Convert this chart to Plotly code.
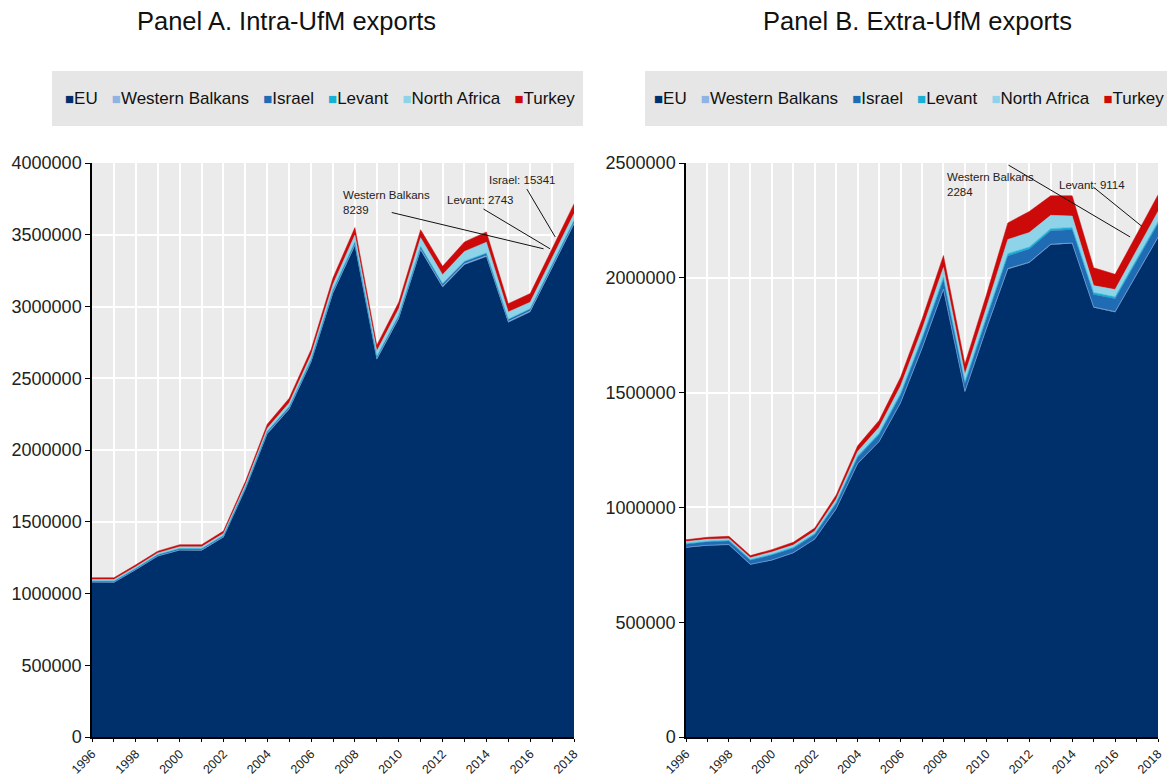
import plotly.graph_objects as go
from plotly.subplots import make_subplots

years = list(range(1996, 2019))
series_names = ['EU', 'Western Balkans', 'Israel', 'Levant', 'North Africa', 'Turkey']
colours = ['#00306b', '#8fb3e2', '#1f6cb4', '#19b0d6', '#8fd3e8', '#cc0a0a']

# Panel A: intra-UfM exports (USD million)
eu_a = [1077700, 1076000, 1164700, 1259400, 1300800, 1300000, 1391700, 1725800, 2112100, 2283500,
        2611900, 3092800, 3423100, 2630100, 2915000, 3391600, 3134500, 3290100, 3346600, 2888700,
        2961000, 3267800, 3572700]
wb_a = [2000, 2100, 2200, 2000, 2300, 2500, 2800, 3300, 4000, 4500, 5200, 6500, 7500, 6200, 6500,
        7800, 7200, 7600, 7900, 6900, 7300, 7900, 8239]
israel_a = [6500, 7000, 7200, 7800, 9000, 8500, 8400, 9500, 11000, 11800, 12400, 13600, 14800, 11900,
            13200, 15000, 14400, 14600, 14900, 13500, 13900, 14600, 15341]
levant_a = [1800, 1900, 1900, 1800, 1900, 2000, 2100, 2400, 2900, 3200, 3500, 4100, 4600, 3800, 4300,
            4600, 3900, 3700, 3600, 2900, 2800, 2700, 2743]
nafrica_a = [10000, 10000, 10000, 11000, 12000, 12000, 13000, 17000, 22000, 25000, 30000, 38000, 48000,
             38000, 45000, 60000, 62000, 68000, 75000, 50000, 45000, 45000, 48000]
turkey_a = [12000, 13000, 14000, 13000, 14000, 15000, 17000, 22000, 28000, 32000, 37000, 45000, 52000,
            40000, 46000, 56000, 58000, 66000, 72000, 58000, 60000, 62000, 68000]

# Panel B: extra-UfM exports (USD million)
eu_b = [825200, 834200, 837100, 751200, 769600, 801500, 861000, 993300, 1190100, 1285500, 1454300,
        1691000, 1948200, 1503200, 1777000, 2037700, 2065900, 2144300, 2149200, 1870500, 1850500,
        2015800, 2174600]
wb_b = [800, 800, 900, 800, 900, 1000, 1000, 1200, 1400, 1500, 1700, 2000, 2300, 1800, 2000, 2300,
        2100, 2200, 2300, 2000, 2000, 2200, 2284]
israel_b = [14000, 15000, 16000, 18000, 22000, 20000, 20000, 23000, 27000, 30000, 34000, 38000, 42000,
            35000, 42000, 55000, 57000, 58000, 58000, 55000, 56000, 55000, 58000]
levant_b = [3000, 3000, 3000, 3000, 3500, 3500, 4000, 4500, 5500, 6000, 7000, 8000, 9500, 8000, 9000,
            10000, 9000, 9500, 9500, 8500, 8500, 9000, 9114]
nafrica_b = [8000, 8000, 7000, 8000, 10000, 10000, 11000, 14000, 20000, 26000, 32000, 36000, 43000,
             32000, 40000, 62000, 63000, 58000, 50000, 30000, 32000, 38000, 45000]
turkey_b = [8000, 9000, 10000, 9000, 10000, 12000, 13000, 18000, 24000, 30000, 38000, 45000, 52000,
            45000, 55000, 72000, 92000, 85000, 88000, 78000, 66000, 70000, 72000]

panel_a = [eu_a, wb_a, israel_a, levant_a, nafrica_a, turkey_a]
panel_b = [eu_b, wb_b, israel_b, levant_b, nafrica_b, turkey_b]

FONT = 'Liberation Sans, Arial, sans-serif'
W, H = 1167, 778


def px(x):
    return x / W


def py(y):
    return 1 - y / H


fig = make_subplots(rows=1, cols=2)

for col, panel in ((1, panel_a), (2, panel_b)):
    for name, vals, c in zip(series_names, panel, colours):
        fig.add_trace(
            go.Scatter(x=years, y=vals, name=name, mode='lines', stackgroup=f'g{col}',
                       line=dict(color=c, width=0.5), fillcolor=c, showlegend=False),
            row=1, col=col
        )

fig.update_xaxes(
    range=[1996, 2018], tick0=1996, dtick=2, tickangle=-45,
    ticks='outside', ticklen=3, tickcolor='black',
    showline=True, linecolor='black', linewidth=1.5,
    showgrid=True, gridcolor='white', gridwidth=1.5,
    minor=dict(tick0=1996, dtick=1, ticks='outside', ticklen=3, tickcolor='black',
               showgrid=True, gridcolor='white', gridwidth=1.5),
    tickfont=dict(size=12.5, color='#222', family=FONT),
    automargin=False, zeroline=False
)
fig.update_yaxes(
    dtick=500000, tickformat='d', ticks='outside', ticklen=5, tickcolor='black',
    showline=True, linecolor='black', linewidth=1.5,
    showgrid=True, gridcolor='white', gridwidth=1.5,
    tickfont=dict(size=18, color='#222', family=FONT),
    automargin=False, zeroline=False
)
fig.update_layout(
    xaxis=dict(domain=[px(92), px(574)]),
    xaxis2=dict(domain=[px(686), px(1158)]),
    yaxis=dict(domain=[py(737), py(163)], range=[0, 4000000]),
    yaxis2=dict(domain=[py(737), py(163)], range=[0, 2500000]),
)

# legend boxes and titles
shapes = []
annotations = []
legend_html = '\u00a0\u00a0\u00a0'.join(
    f"<span style='color:{c};font-size:15px'>\u25a0</span>{n}" for n, c in zip(series_names, colours)
)
for x0, x1, title, tx in ((52, 583, 'Panel A. Intra-UfM exports', 286),
                          (645, 1167, 'Panel B. Extra-UfM exports', 917)):
    shapes.append(dict(type='rect', xref='paper', yref='paper', x0=px(x0), x1=px(x1),
                       y0=py(126), y1=py(71), fillcolor='#e6e6e6', line=dict(width=0), layer='below'))
    annotations.append(dict(xref='paper', yref='paper', x=px(tx), y=py(21), text=title,
                            showarrow=False, xanchor='center', yanchor='middle',
                            font=dict(size=25.5, color='#111', family=FONT)))
    annotations.append(dict(xref='paper', yref='paper', x=px((x0 + x1) / 2 + 3), y=py(98), text=legend_html,
                            showarrow=False, xanchor='center', yanchor='middle',
                            font=dict(size=17, color='#111', family=FONT)))

# callouts for the thin series
callouts = [
    ('x', 'y', 'Western Balkans<br>8239', 2007.37, 3723000, (2009.68, 3655000), (2016.61, 3402000)),
    ('x', 'y', 'Levant: 2743', 2012.12, 3744000, (2013.87, 3679000), (2016.91, 3402000)),
    ('x', 'y', 'Israel: 15341', 2014.04, 3882000, (2015.85, 3818000), (2017.14, 3485000)),
    ('x2', 'y2', 'Western Balkans<br>2284', 2008.07, 2405000, (2011.03, 2491000), (2016.70, 2178000)),
    ('x2', 'y2', 'Levant: 9114', 2013.30, 2405000, (2014.99, 2395000), (2017.25, 2224000)),
]
for xr, yr, text, tx, ty, p0, p1 in callouts:
    annotations.append(dict(xref=xr, yref=yr, x=tx, y=ty, text=text, showarrow=False,
                            xanchor='left', yanchor='middle', align='left',
                            font=dict(size=11.5, color='#222', family=FONT)))
    shapes.append(dict(type='line', xref=xr, yref=yr, x0=p0[0], y0=p0[1], x1=p1[0], y1=p1[1],
                       line=dict(color='#111', width=1)))

fig.update_layout(
    width=W, height=H,
    margin=dict(l=0, r=0, t=0, b=0),
    paper_bgcolor='white', plot_bgcolor='#ebebeb',
    font=dict(family=FONT, color='#222'),
    showlegend=False,
    shapes=shapes, annotations=annotations,
)

# drop the page's default body margin so the figure fills the window
fig.write_html('out.html', config={'displayModeBar': False},
               post_script="document.body.style.margin='0';document.body.style.overflow='hidden';")
